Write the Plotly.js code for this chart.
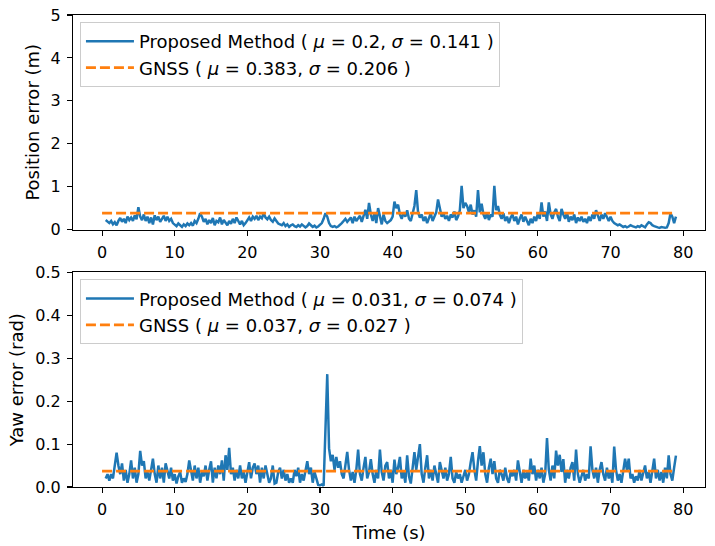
<!DOCTYPE html>
<html>
<head>
<meta charset="utf-8">
<script src="https://cdn.plot.ly/plotly-3.0.1.min.js"></script>
<style>html,body{margin:0;padding:0;background:#fff;}#chart{width:715px;height:546px;}</style>
</head>
<body>
<div id="chart"></div>
<script>
// Sampling of the estimated series (seconds)
const tStart = 0.5;
const tStep = 0.25;

// Position error of the proposed method (m), one value per 0.25 s from t = 0.5
const positionError = [
  0.22, 0.18,
  0.15, 0.2, 0.12, 0.17,
  0.1, 0.2, 0.27, 0.18,
  0.25, 0.15, 0.3, 0.22,
  0.28, 0.2, 0.33, 0.24,
  0.52, 0.3, 0.22, 0.35,
  0.2, 0.3, 0.15, 0.28,
  0.12, 0.33, 0.22, 0.3,
  0.18, 0.25, 0.32, 0.2,
  0.3, 0.2, 0.25, 0.15,
  0.12, 0.08, 0.14, 0.1,
  0.06, 0.12, 0.08, 0.14,
  0.1, 0.15, 0.09, 0.2,
  0.15, 0.25, 0.38, 0.3,
  0.18, 0.25, 0.12, 0.22,
  0.15, 0.27, 0.1, 0.2,
  0.17, 0.28, 0.12, 0.22,
  0.15, 0.1, 0.2, 0.13,
  0.25, 0.15, 0.28, 0.18,
  0.12, 0.2, 0.1, 0.15,
  0.22, 0.28, 0.2, 0.3,
  0.25, 0.32, 0.22, 0.3,
  0.26, 0.38, 0.28, 0.24,
  0.3, 0.22, 0.18, 0.26,
  0.2, 0.14, 0.12, 0.1,
  0.15, 0.08, 0.12, 0.06,
  0.1, 0.12, 0.08, 0.06,
  0.1, 0.07, 0.12, 0.09,
  0.05, 0.08, 0.14, 0.1,
  0.06, 0.09, 0.05, 0.07,
  0.1, 0.15, 0.25, 0.38,
  0.3, 0.15, 0.08, 0.06,
  0.08, 0.05, 0.07, 0.1,
  0.15, 0.2, 0.25, 0.18,
  0.22, 0.28, 0.15, 0.3,
  0.2, 0.25, 0.32, 0.18,
  0.3, 0.46, 0.25, 0.62,
  0.35, 0.2, 0.38, 0.15,
  0.5, 0.28, 0.12, 0.35,
  0.2, 0.15, 0.18, 0.22,
  0.3, 0.65, 0.5, 0.58,
  0.35, 0.25, 0.4, 0.3,
  0.45, 0.25, 0.2, 0.38,
  0.55, 0.92, 0.4, 0.28,
  0.35, 0.2, 0.3, 0.15,
  0.25, 0.38, 0.2, 0.3,
  0.4, 0.7, 0.45, 0.3,
  0.38, 0.25, 0.32, 0.2,
  0.35, 0.28, 0.42, 0.22,
  0.3, 0.45, 1.02, 0.5,
  0.62, 0.55, 0.4, 0.58,
  0.35, 0.45, 0.3, 0.92,
  0.4, 0.6, 0.35, 0.25,
  0.4, 0.22, 0.35, 0.3,
  1.02, 0.45, 0.55, 0.35,
  0.25, 0.38, 0.2, 0.3,
  0.15, 0.28, 0.35, 0.2,
  0.3, 0.12, 0.25, 0.35,
  0.18, 0.3, 0.2, 0.1,
  0.25, 0.15, 0.3, 0.2,
  0.38, 0.25, 0.63, 0.3,
  0.42, 0.2, 0.63, 0.35,
  0.25, 0.4, 0.48, 0.3,
  0.2, 0.48, 0.35, 0.25,
  0.4, 0.18, 0.3, 0.22,
  0.35, 0.15, 0.28, 0.2,
  0.3, 0.18, 0.25, 0.15,
  0.3, 0.2, 0.35, 0.25,
  0.45, 0.3, 0.2, 0.35,
  0.25, 0.38, 0.28, 0.2,
  0.3, 0.2, 0.15, 0.12,
  0.1, 0.12, 0.08, 0.06,
  0.08, 0.05, 0.07, 0.1,
  0.08, 0.06, 0.05, 0.08,
  0.06, 0.1, 0.07, 0.05,
  0.12, 0.17, 0.15, 0.1,
  0.08, 0.06, 0.05, 0.04,
  0.06, 0.05, 0.04, 0.05,
  0.15, 0.38, 0.3, 0.15,
  0.3
];

// Yaw error of the proposed method (rad), one value per 0.25 s from t = 0.5
const yawError = [
  0.02, 0.03,
  0.015, 0.03, 0.02, 0.045,
  0.08, 0.05, 0.03, 0.055,
  0.015, 0.04, 0.01, 0.03,
  0.062, 0.02, 0.045, 0.01,
  0.03, 0.084, 0.05, 0.06,
  0.02, 0.035, 0.015, 0.04,
  0.066, 0.03, 0.01, 0.05,
  0.02, 0.045, 0.01, 0.055,
  0.035, 0.02, 0.045, 0.015,
  0.03, 0.008, 0.025, 0.035,
  0.01, 0.02, 0.012, 0.03,
  0.062, 0.04, 0.015, 0.05,
  0.02, 0.045, 0.01, 0.035,
  0.025, 0.05, 0.015, 0.04,
  0.06, 0.01, 0.045, 0.02,
  0.05, 0.03, 0.062, 0.015,
  0.074, 0.04, 0.091, 0.03,
  0.045, 0.015, 0.04, 0.02,
  0.05, 0.02, 0.035, 0.01,
  0.03, 0.058, 0.02, 0.045,
  0.055, 0.03, 0.05, 0.01,
  0.045, 0.02, 0.05, 0.03,
  0.01, 0.02, 0.05, 0.008,
  0.01, 0.035, 0.045, 0.02,
  0.04, 0.015, 0.03, 0.01,
  0.02, 0.01, 0.04, 0.025,
  0.045, 0.01, 0.03, 0.015,
  0.04, 0.06, 0.03, 0.045,
  0.01, 0.035, 0.02, 0.005,
  0.004, 0.006, 0.003, 0.12,
  0.263, 0.09, 0.06, 0.075,
  0.04, 0.07, 0.045, 0.06,
  0.03, 0.02, 0.05, 0.082,
  0.04, 0.015, 0.035, 0.01,
  0.04, 0.087, 0.03, 0.015,
  0.045, 0.07, 0.02, 0.035,
  0.065, 0.03, 0.01, 0.04,
  0.02, 0.087, 0.035, 0.015,
  0.05, 0.058, 0.02, 0.04,
  0.01, 0.064, 0.03, 0.045,
  0.07, 0.02, 0.035, 0.01,
  0.074, 0.025, 0.008, 0.05,
  0.081, 0.04, 0.07, 0.1,
  0.03, 0.01, 0.045, 0.074,
  0.02, 0.04, 0.015, 0.05,
  0.03, 0.01, 0.058, 0.035,
  0.02, 0.045, 0.015, 0.03,
  0.07, 0.02, 0.01, 0.035,
  0.02, 0.03, 0.01, 0.025,
  0.04, 0.015, 0.03, 0.058,
  0.081, 0.04, 0.015, 0.06,
  0.095, 0.05, 0.081, 0.03,
  0.01, 0.045, 0.066, 0.03,
  0.06, 0.02, 0.01, 0.04,
  0.03, 0.015, 0.045, 0.02,
  0.01, 0.035, 0.025, 0.04,
  0.015, 0.062, 0.03, 0.01,
  0.04, 0.02, 0.035, 0.015,
  0.066, 0.03, 0.05, 0.015,
  0.04, 0.02, 0.045, 0.01,
  0.03, 0.114, 0.04, 0.015,
  0.05, 0.02, 0.085, 0.05,
  0.075, 0.035, 0.065, 0.01,
  0.04, 0.02, 0.045, 0.058,
  0.015, 0.087, 0.03, 0.01,
  0.025, 0.04, 0.015, 0.03,
  0.02, 0.095, 0.04, 0.02,
  0.045, 0.01, 0.04, 0.058,
  0.03, 0.015, 0.045, 0.02,
  0.035, 0.01, 0.094, 0.04,
  0.015, 0.03, 0.01, 0.045,
  0.066, 0.04, 0.066, 0.02,
  0.03, 0.01, 0.025, 0.015,
  0.04, 0.015, 0.03, 0.05,
  0.02, 0.035, 0.01, 0.045,
  0.066, 0.02, 0.04, 0.015,
  0.035, 0.01, 0.045, 0.02,
  0.074, 0.03, 0.015, 0.045,
  0.073
];

// GNSS mean error lines
const gnssTime = [0, 79];
const gnssPosition = [0.383, 0.383];
const gnssYaw = [0.037, 0.037];

// Legend labels
const proposedPosLabel = 'Proposed Method ( <i>μ</i> = 0.2, <i>σ</i> = 0.141 )';
const gnssPosLabel = 'GNSS ( <i>μ</i> = 0.383, <i>σ</i> = 0.206 )';
const proposedYawLabel = 'Proposed Method ( <i>μ</i> = 0.031, <i>σ</i> = 0.074 )';
const gnssYawLabel = 'GNSS ( <i>μ</i> = 0.037, <i>σ</i> = 0.027 )';

const posTicks = [0, 1, 2, 3, 4, 5];
const yawTicks = [0, 0.1, 0.2, 0.3, 0.4, 0.5];
const timeTicks = [0, 10, 20, 30, 40, 50, 60, 70, 80];

const time = positionError.map((_, i) => tStart + i * tStep);
const timeYaw = yawError.map((_, i) => tStart + i * tStep);

const blue = '#1f77b4';
const orange = '#ff7f0e';
const FONT = 'DejaVu Sans, sans-serif';
const TICK_SIZE = 16;
const TITLE_SIZE = 18;
const LEGEND_SIZE = 18;

const traces = [
  {x: time, y: positionError, type: 'scatter', mode: 'lines', name: proposedPosLabel,
   line: {color: blue, width: 2.5}, xaxis: 'x', yaxis: 'y', legend: 'legend', legendgroup: 'a'},
  {x: gnssTime, y: gnssPosition, type: 'scatter', mode: 'lines', name: gnssPosLabel,
   line: {color: orange, width: 2.8, dash: '10px,4px'}, xaxis: 'x', yaxis: 'y', legend: 'legend', legendgroup: 'b'},
  {x: timeYaw, y: yawError, type: 'scatter', mode: 'lines', name: proposedYawLabel,
   line: {color: blue, width: 2.5}, xaxis: 'x2', yaxis: 'y2', legend: 'legend2', legendgroup: 'c'},
  {x: gnssTime, y: gnssYaw, type: 'scatter', mode: 'lines', name: gnssYawLabel,
   line: {color: orange, width: 2.8, dash: '10px,4px'}, xaxis: 'x2', yaxis: 'y2', legend: 'legend2', legendgroup: 'd'}
];

const axisCommon = {
  showline: true, mirror: true, linecolor: '#000', linewidth: 1.1,
  ticks: 'outside', ticklen: 5, tickwidth: 1.1, tickcolor: '#000',
  ticklabelstandoff: 3,
  showgrid: false, zeroline: false,
  tickfont: {family: FONT, size: TICK_SIZE, color: '#000'}
};

const legendCommon = {
  bgcolor: 'rgba(255,255,255,0.85)', bordercolor: '#cccccc', borderwidth: 1,
  font: {family: FONT, size: LEGEND_SIZE, color: '#000'},
  xanchor: 'left', yanchor: 'top', traceorder: 'grouped', tracegroupgap: 0,
  itemwidth: 48
};

const titleFont = {family: FONT, size: TITLE_SIZE, color: '#000'};

const layout = {
  width: 715, height: 546,
  margin: {l: 73, r: 10, t: 15, b: 59},
  paper_bgcolor: '#fff', plot_bgcolor: '#fff',
  showlegend: true,
  font: {family: FONT, size: TICK_SIZE, color: '#000'},
  xaxis: Object.assign({}, axisCommon, {domain: [0, 1], range: [-4.0, 83.0], tickvals: timeTicks, anchor: 'y'}),
  yaxis: Object.assign({}, axisCommon, {domain: [0.5455, 1], range: [0, 5], tickvals: posTicks, anchor: 'x',
    title: {text: 'Position error (m)', font: titleFont, standoff: 6}}),
  xaxis2: Object.assign({}, axisCommon, {domain: [0, 1], range: [-4.0, 83.0], tickvals: timeTicks, anchor: 'y2',
    title: {text: 'Time (s)', font: titleFont, standoff: 8}}),
  yaxis2: Object.assign({}, axisCommon, {domain: [0, 0.4545], range: [0, 0.5], tickvals: yawTicks, tickformat: '.1f', anchor: 'x2',
    title: {text: 'Yaw error (rad)', font: titleFont, standoff: 6}}),
  legend: Object.assign({}, legendCommon, {x: 0.011, y: 0.985}),
  legend2: Object.assign({}, legendCommon, {x: 0.011, y: 0.44})
};

Plotly.newPlot('chart', traces, layout, {displayModeBar: false, staticPlot: true});
</script>
</body>
</html>
